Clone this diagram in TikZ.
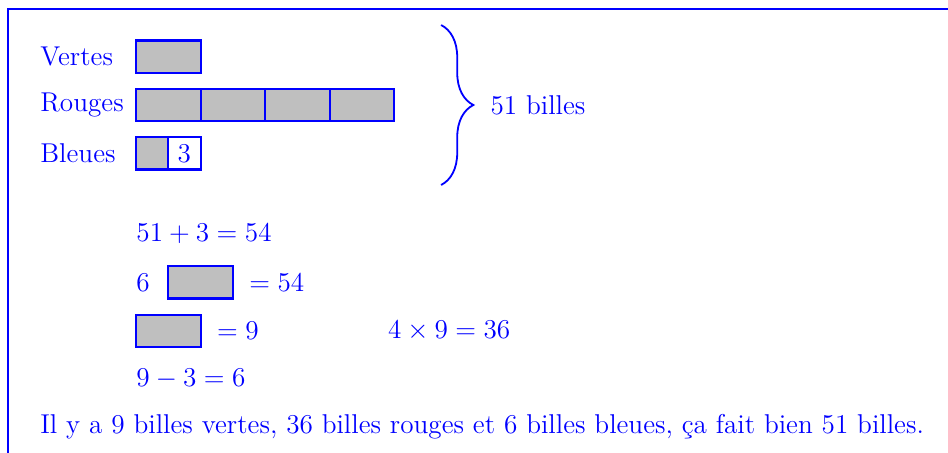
\documentclass[tikz,border=0pt,12pt]{standalone}
\usetikzlibrary{decorations.pathreplacing}
\tikzset{
  bar/.style={draw=blue, fill=lightgray, line width=0.9pt},
  lbl/.style={anchor=west, inner sep=0pt},
}
\begin{document}
\begin{tikzpicture}[every node/.style={text=blue}]
  \useasboundingbox (-2.109,-5.395) rectangle (12.589,1.628);
  \draw[blue, line width=1pt] (-1.985,-5.6) -- (-1.985,1.488) -- (12.8,1.488);

  \foreach \y/\nom/\lab in {0.75/vertes/Vertes, 0/rouges/Rouges, -0.75/bleues/Bleues} {
    \node[lbl] (\nom) at (-1.49,\y) {\lab};
  }

  % barres
  \draw[bar] (0,0.5) rectangle (1,1);
  \foreach \x in {0,1,2,3}
    \draw[bar] (\x,-0.25) rectangle (\x+1,0.25);
  \draw[bar] (0,-1) rectangle (0.5,-0.5);
  \draw[blue, line width=0.9pt] (0.5,-1) rectangle (1,-0.5);
  \node (trois) at (0.75,-0.75) {3};

  % accolade
  \coordinate (haut) at (4.73,1.24);
  \coordinate (bas) at (4.73,-1.24);
  \draw[blue, thick, decorate, decoration={brace, amplitude=0.5cm}] (haut) -- (bas);
  \node[lbl] (total) at (5.49,0) {51 billes};

  % calculs
  \node[lbl] (eqa) at (0,-2) {$51+3=54$};
  \node[lbl] (six) at (0,-2.75) {$6$};
  \draw[bar] (0.5,-3) rectangle (1.5,-2.5);
  \node[lbl] (eqb) at (1.75,-2.75) {$=54$};
  \draw[bar] (0,-3.75) rectangle (1,-3.25);
  \node[lbl] (eqc) at (1.25,-3.5) {$=9$};
  \node[lbl] (eqd) at (3.9,-3.5) {$4\times9=36$};
  \node[lbl] (eqe) at (0,-4.25) {$9-3=6$};

  \node[lbl] (phrase) at (-1.49,-4.98) {Il y a 9 billes vertes, 36 billes rouges et 6 billes bleues, ça fait bien 51 billes.};
\end{tikzpicture}
\end{document}
